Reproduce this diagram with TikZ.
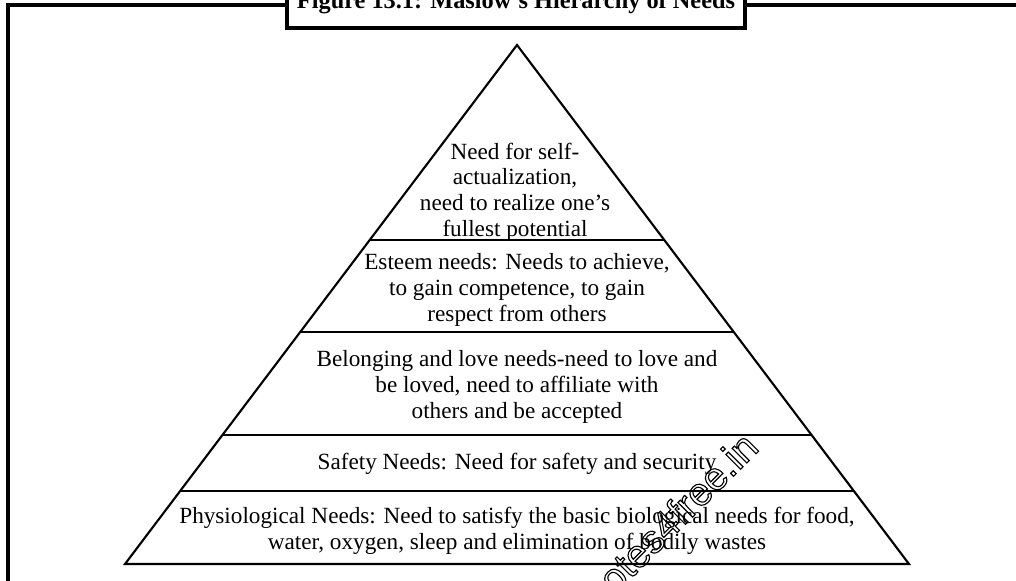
\documentclass[tikz,border=0pt]{standalone}
\usepackage{fontspec}
\setmainfont{Liberation Serif}
\setsansfont{Liberation Sans}
\usepackage{tikz}
\usetikzlibrary{calc}

\begin{document}
\begin{tikzpicture}[
    x=0.025cm, y=-0.025cm,
    frame/.style={line width=2.2pt},
    edge/.style={line width=1.5pt, line join=miter},
    band/.style={line width=1.5pt},
    need/.style={font=\fontsize{16.5}{18.3}\selectfont, align=center, inner sep=0pt},
]
\useasboundingbox (0,0) rectangle (1016,580);

% Outer frame
\draw[frame] (1030,5) -- (8,5) -- (8,600);

% Title box
\node[draw, line width=2.2pt, fill=white, minimum width=458*0.025cm, minimum height=44*0.025cm,
      inner sep=0pt] (titlebox) at (516,6) {};
\node[anchor=base, font=\bfseries\fontsize{17.3}{19}\selectfont, inner sep=0pt]
      (title) at (516,8.5) {Figure 13.1: Maslow's Hierarchy of Needs};

% Pyramid
\coordinate (apex) at (517,45);
\coordinate (bl) at (125,564);
\coordinate (br) at (909,564);
\draw[edge] (bl) -- (apex) -- (br) -- cycle;

% Levels
\foreach \t in {0.3757, 0.553, 0.7514, 0.8593}
  \draw[band] ($(apex)!\t!(bl)$) -- ($(apex)!\t!(br)$);

% Texts
\node[need] (self) at (515,192) {Need for self-\\actualization,\\need to realize one's\\fullest potential};
\node[need] (esteem) at (517,290) {Esteem needs: Needs to achieve,\\to gain competence, to gain\\respect from others};
\node[need] (belong) at (517,387) {Belonging and love needs-need to love and\\be loved, need to affiliate with\\others and be accepted};
\node[need] (safety) at (517,464) {Safety Needs: Need for safety and security};
\node[need] (physio) at (517,531) {Physiological Needs: Need to satisfy the basic biological needs for food,\\water, oxygen, sleep and elimination of bodily wastes};

% Watermark
\node[rotate=45, font=\sffamily\fontsize{28}{28}\selectfont, inner sep=0pt] (wmark) at (670,520)
  {\special{pdf:code 1 Tr 0.8 w}notes4free.in\special{pdf:code 0 Tr}};

\end{tikzpicture}
\end{document}
